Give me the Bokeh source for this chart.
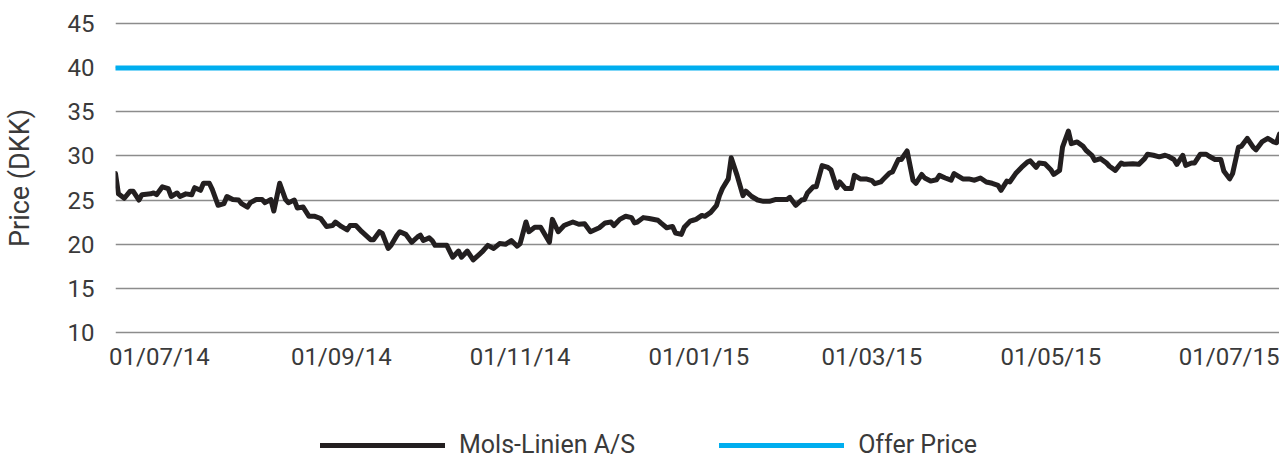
import pandas as pd
from bokeh.plotting import figure
from bokeh.layouts import column
from bokeh.models import Range1d, FixedTicker, DatetimeTickFormatter, Legend, LegendItem
from bokeh.embed import file_html
from bokeh.resources import INLINE

# ---------------- data ----------------
dates = [
    "2014-06-16", "2014-06-17", "2014-06-19", "2014-06-21", "2014-06-22", "2014-06-24", "2014-06-25",
    "2014-06-28", "2014-06-29", "2014-06-30",
    "2014-07-02", "2014-07-04", "2014-07-05", "2014-07-07", "2014-07-08", "2014-07-10", "2014-07-12",
    "2014-07-13", "2014-07-15", "2014-07-16", "2014-07-18", "2014-07-19", "2014-07-21", "2014-07-23",
    "2014-07-24", "2014-07-26", "2014-07-28", "2014-07-29", "2014-07-31",
    "2014-08-01", "2014-08-03", "2014-08-05", "2014-08-06", "2014-08-08", "2014-08-09", "2014-08-11",
    "2014-08-13", "2014-08-14", "2014-08-16", "2014-08-17", "2014-08-19", "2014-08-21", "2014-08-23",
    "2014-08-25", "2014-08-27", "2014-08-29", "2014-08-30",
    "2014-09-01", "2014-09-03", "2014-09-04", "2014-09-06", "2014-09-08", "2014-09-11", "2014-09-12",
    "2014-09-14", "2014-09-15", "2014-09-17", "2014-09-18", "2014-09-20", "2014-09-21", "2014-09-23",
    "2014-09-25", "2014-09-27", "2014-09-28", "2014-09-29",
    "2014-10-01", "2014-10-02", "2014-10-03", "2014-10-07", "2014-10-09", "2014-10-11", "2014-10-12",
    "2014-10-14", "2014-10-16", "2014-10-18", "2014-10-19", "2014-10-21", "2014-10-23", "2014-10-25",
    "2014-10-27", "2014-10-29", "2014-10-31",
    "2014-11-01", "2014-11-03", "2014-11-04", "2014-11-06", "2014-11-08", "2014-11-11", "2014-11-12",
    "2014-11-14", "2014-11-16", "2014-11-17", "2014-11-19", "2014-11-21", "2014-11-23", "2014-11-25",
    "2014-11-28", "2014-11-30",
    "2014-12-02", "2014-12-03", "2014-12-05", "2014-12-07", "2014-12-09", "2014-12-10", "2014-12-11",
    "2014-12-13", "2014-12-15", "2014-12-18", "2014-12-19", "2014-12-21", "2014-12-23", "2014-12-24",
    "2014-12-26", "2014-12-27", "2014-12-29", "2014-12-30", "2014-12-31",
    "2015-01-02", "2015-01-03", "2015-01-05", "2015-01-07", "2015-01-08", "2015-01-09", "2015-01-11",
    "2015-01-12", "2015-01-14", "2015-01-16", "2015-01-17", "2015-01-19", "2015-01-21", "2015-01-23",
    "2015-01-25", "2015-01-27", "2015-01-29", "2015-01-31",
    "2015-02-01", "2015-02-03", "2015-02-05", "2015-02-06", "2015-02-07", "2015-02-09", "2015-02-10",
    "2015-02-12", "2015-02-14", "2015-02-15", "2015-02-17", "2015-02-18", "2015-02-20", "2015-02-22",
    "2015-02-23", "2015-02-25", "2015-02-27",
    "2015-03-01", "2015-03-02", "2015-03-04", "2015-03-05", "2015-03-07", "2015-03-08", "2015-03-10",
    "2015-03-11", "2015-03-13", "2015-03-15", "2015-03-16", "2015-03-18", "2015-03-19", "2015-03-21",
    "2015-03-23", "2015-03-24", "2015-03-26", "2015-03-28", "2015-03-29", "2015-03-31",
    "2015-04-01", "2015-04-03", "2015-04-05", "2015-04-07", "2015-04-09", "2015-04-11", "2015-04-13",
    "2015-04-14", "2015-04-16", "2015-04-17", "2015-04-19", "2015-04-21", "2015-04-23", "2015-04-24",
    "2015-04-26", "2015-04-27", "2015-04-29",
    "2015-05-01", "2015-05-02", "2015-05-04", "2015-05-05", "2015-05-07", "2015-05-08", "2015-05-10",
    "2015-05-12", "2015-05-13", "2015-05-15", "2015-05-16", "2015-05-18", "2015-05-20", "2015-05-21",
    "2015-05-23", "2015-05-25", "2015-05-26", "2015-05-29", "2015-05-31",
    "2015-06-02", "2015-06-03", "2015-06-05", "2015-06-07", "2015-06-09", "2015-06-10", "2015-06-12",
    "2015-06-13", "2015-06-15", "2015-06-16", "2015-06-18", "2015-06-19", "2015-06-21", "2015-06-23",
    "2015-06-24", "2015-06-26", "2015-06-28", "2015-06-29",
    "2015-07-01", "2015-07-02", "2015-07-04", "2015-07-05", "2015-07-07", "2015-07-09", "2015-07-10",
    "2015-07-12", "2015-07-14", "2015-07-16", "2015-07-17", "2015-07-18",
]

mols_linien = [
    28.0, 25.7, 25.2, 26.0, 26.0, 25.0, 25.6,
    25.7, 25.8, 25.6,
    26.5, 26.3, 25.4, 25.8, 25.4, 25.7, 25.6,
    26.4, 26.1, 26.9, 26.9, 26.2, 24.4, 24.6,
    25.4, 25.05, 25.0, 24.6, 24.2,
    24.7, 25.05, 25.05, 24.7, 25.05, 23.75, 26.9,
    25.05, 24.7, 25.0, 24.1, 24.2, 23.15, 23.15,
    22.9, 22.0, 22.1, 22.5,
    22.0, 21.6, 22.1, 22.1, 21.4, 20.5, 20.5,
    21.4, 21.2, 19.5, 19.85, 21.0, 21.4, 21.1,
    20.2, 20.8, 21.0, 20.4,
    20.7, 20.4, 19.85, 19.85, 18.5, 19.2, 18.5,
    19.2, 18.2, 18.8, 19.1, 19.85, 19.5, 20.05,
    19.97, 20.4, 19.75,
    20.05, 22.5, 21.4, 21.9, 21.9, 20.2, 22.8,
    21.4, 22.1, 22.25, 22.5, 22.25, 22.3, 21.4,
    21.85, 22.4,
    22.5, 22.1, 22.8, 23.15, 23.0, 22.4, 22.5,
    23.0, 22.9, 22.7, 22.4, 21.85, 22.0, 21.25,
    21.1, 21.9, 22.6, 22.7, 22.8,
    23.25, 23.15, 23.6, 24.4, 25.5, 26.3, 27.4,
    29.8, 27.8, 25.5, 26.0, 25.4, 25.0, 24.85,
    24.85, 25.05, 25.05, 25.05,
    25.3, 24.4, 25.0, 25.05, 25.8, 26.5, 26.5,
    28.9, 28.7, 28.45, 26.4, 27.05, 26.3, 26.3,
    27.8, 27.4, 27.4,
    27.2, 26.85, 27.05, 27.4, 28.07, 28.2, 29.6,
    29.6, 30.57, 27.25, 26.9, 27.9, 27.5, 27.15,
    27.3, 27.8, 27.5, 27.25, 28.0, 27.6,
    27.4, 27.4, 27.25, 27.5, 27.05, 26.9, 26.67,
    26.1, 27.15, 27.05, 28.0, 28.7, 29.3, 29.45,
    28.7, 29.2, 29.13,
    28.45, 27.9, 28.37, 31.0, 32.84, 31.4, 31.6,
    31.1, 30.65, 30.08, 29.5, 29.7, 29.2, 28.83,
    28.37, 29.2, 29.05, 29.13, 29.05,
    29.7, 30.2, 30.08, 29.9, 30.08, 29.97, 29.6,
    29.05, 30.08, 28.94, 29.2, 29.2, 30.2, 30.2,
    29.97, 29.6, 29.6, 28.3,
    27.4, 28.0, 31.0, 31.1, 32.0, 31.0, 30.7,
    31.6, 32.0, 31.6, 31.5, 32.5,
]

offer_price = 40.0

tick_dates = ["2014-07-01", "2014-09-01", "2014-11-01", "2015-01-01",
              "2015-03-01", "2015-05-01", "2015-07-01"]
y_ticks = [10, 15, 20, 25, 30, 35, 40, 45]

series_names = ["Mols-Linien A/S", "Offer Price"]
series_colors = ["#231f20", "#00aeef"]

# ---------------- figure ----------------
FONT = "Roboto"
TXT = "#3a3a3a"

dt = [pd.Timestamp(d).to_pydatetime() for d in dates]
offer = [offer_price] * len(dt)
tick_ms = [(pd.Timestamp(d) - pd.Timestamp("1970-01-01")).total_seconds() * 1000.0 for d in tick_dates]

p = figure(
    x_axis_type="datetime",
    frame_width=1164, frame_height=317,
    min_border_left=115, min_border_right=0, min_border_top=19, min_border_bottom=50,
    x_range=Range1d(dt[0], dt[-1]),
    y_range=Range1d(9.5, 45.5),
    output_backend="svg", toolbar_location=None,
)
p.outline_line_color = None
p.background_fill_color = "white"
p.border_fill_color = "white"

p.line(dt, mols_linien, line_width=5, line_color=series_colors[0], line_join="round", line_cap="round")
p.line(dt, offer, line_width=5, line_color=series_colors[1], line_cap="round")

# grid
p.xgrid.grid_line_color = None
p.ygrid.grid_line_color = "#8c8c8c"
p.ygrid.grid_line_width = 1.5

# y axis
p.yaxis.ticker = FixedTicker(ticks=y_ticks)
p.yaxis.axis_label = "Price (DKK)"
p.yaxis.axis_label_text_font = FONT
p.yaxis.axis_label_text_font_style = "normal"
p.yaxis.axis_label_text_font_size = "27px"
p.yaxis.axis_label_text_color = TXT
p.yaxis.axis_label_standoff = 29
p.yaxis.major_label_text_font = FONT
p.yaxis.major_label_text_font_size = "24px"
p.yaxis.major_label_text_color = TXT
p.yaxis.major_label_standoff = 21

# x axis
p.xaxis.ticker = FixedTicker(ticks=tick_ms)
fmt = "%d/%m/%y"
p.xaxis.formatter = DatetimeTickFormatter(
    milliseconds=fmt, seconds=fmt, minsec=fmt, minutes=fmt, hourmin=fmt, hours=fmt,
    days=fmt, months=fmt, years=fmt,
)
p.xaxis.major_label_text_font = FONT
p.xaxis.major_label_text_font_size = "24px"
p.xaxis.major_label_text_color = TXT
p.xaxis.major_label_standoff = 6

for ax in (p.xaxis, p.yaxis):
    ax.axis_line_color = None
    ax.major_tick_line_color = None
    ax.minor_tick_line_color = None
    ax.major_tick_out = 0
    ax.major_tick_in = 0
    ax.minor_tick_out = 0
    ax.minor_tick_in = 0

# ---------------- legend strip (separate figure below the chart) ----------------
leg = figure(
    width=1279, height=73, min_border=0,
    x_range=Range1d(0, 1), y_range=Range1d(0, 1),
    x_axis_location=None, y_axis_location=None,
    output_backend="svg", toolbar_location=None,
)
leg.outline_line_color = None
leg.xgrid.grid_line_color = None
leg.ygrid.grid_line_color = None
leg.background_fill_color = "white"
leg.border_fill_color = "white"

# legend proxies: single NaN point, so nothing is drawn in the strip itself
nan = float("nan")
proxies = [leg.line(x=[nan, nan], y=[nan, nan], line_width=5, line_color=c, line_cap="round")
           for c in series_colors]

legend = Legend(
    items=[LegendItem(label=n, renderers=[r]) for n, r in zip(series_names, proxies)],
    orientation="horizontal",
    location=(205, 0),
    glyph_width=125, glyph_height=24, label_standoff=14, spacing=84,
    label_text_font=FONT, label_text_font_size="25px", label_text_color=TXT,
    padding=0, margin=0,
    border_line_color=None, background_fill_alpha=0,
)
leg.add_layout(legend, "center")

layout = column(p, leg, spacing=0)
open("out.html", "w").write(file_html(layout, INLINE))
